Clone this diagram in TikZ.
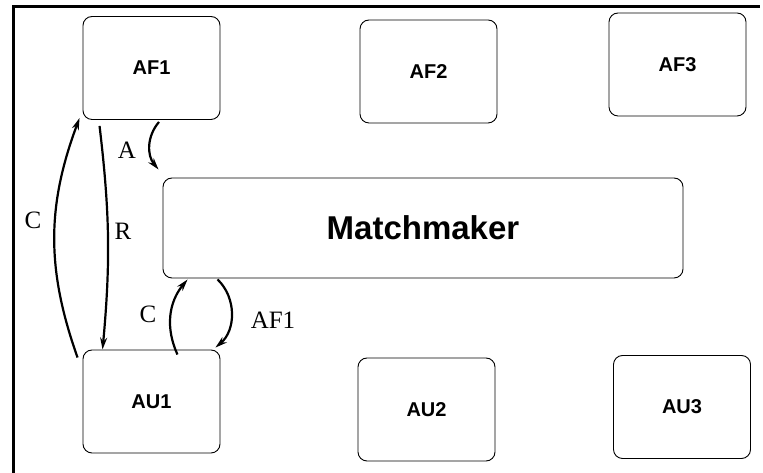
\documentclass[tikz,border=0pt]{standalone}
\usepackage{fontspec}
\setmainfont{Liberation Serif}
\setsansfont{Liberation Sans}
\usetikzlibrary{arrows.meta}

\begin{document}
\begin{tikzpicture}[x=1pt,y=1pt]

        \useasboundingbox (0,0) rectangle (763,473);
        \draw[line width=3pt] (13,0) -- (13,466) coordinate (corner) -- (760,466);

        \begin{scope}[every node/.style={rectangle,draw,rounded corners=9pt,line width=0.9pt,
            minimum width=137pt,minimum height=103pt,font=\sffamily\bfseries\fontsize{20}{23}\selectfont}]
          \node (af1) at (151.5,405)   {AF1};
          \node (af2) at (428.5,401.5) {AF2};
          \node (af3) at (677.5,408.5) {AF3};
          \node (au1) at (151.5,71.5)  {AU1};
          \node (au2) at (426.5,63.5)  {AU2};
          \node (au3) at (682,66)      {AU3};
          \node[minimum width=520pt,minimum height=100pt,
            font=\sffamily\bfseries\fontsize{33}{37}\selectfont] (mm) at (423,245) {Matchmaker};
        \end{scope}

        \begin{scope}[every node/.style={font=\fontsize{25}{28}\selectfont}]
          \node (lA)  at (127,323) {A};
          \node (lC1) at (33,253)  {C};
          \node (lR)  at (123,242) {R};
          \node (lC2) at (148,159) {C};
          \node (lAF) at (273,153) {AF1};
        \end{scope}

        \begin{scope}[every edge/.style={draw,line width=2.2pt,-{Stealth[length=12pt,width=7pt]}}]
          \path ([xshift=-5pt,yshift=-8pt]au1.north west) edge[bend left=20] ([xshift=-3pt,yshift=2pt]af1.south west);
          \path ([xshift=17pt,yshift=-6pt]af1.south west) edge[bend left=6] ([xshift=20pt]au1.north west);
          \path ([xshift=7.5pt,yshift=-2pt]af1.south) edge[bend right=40] ([xshift=-4pt,yshift=8pt]mm.north west);
          \path ([xshift=-43pt,yshift=-5pt]au1.north east) edge[bend left=32] ([xshift=25pt,yshift=-1pt]mm.south west);
          \path ([xshift=55pt,yshift=-1pt]mm.south west) edge[bend left=48] ([xshift=-5pt,yshift=2pt]au1.north east);
        \end{scope}

      \end{tikzpicture}
\end{document}
